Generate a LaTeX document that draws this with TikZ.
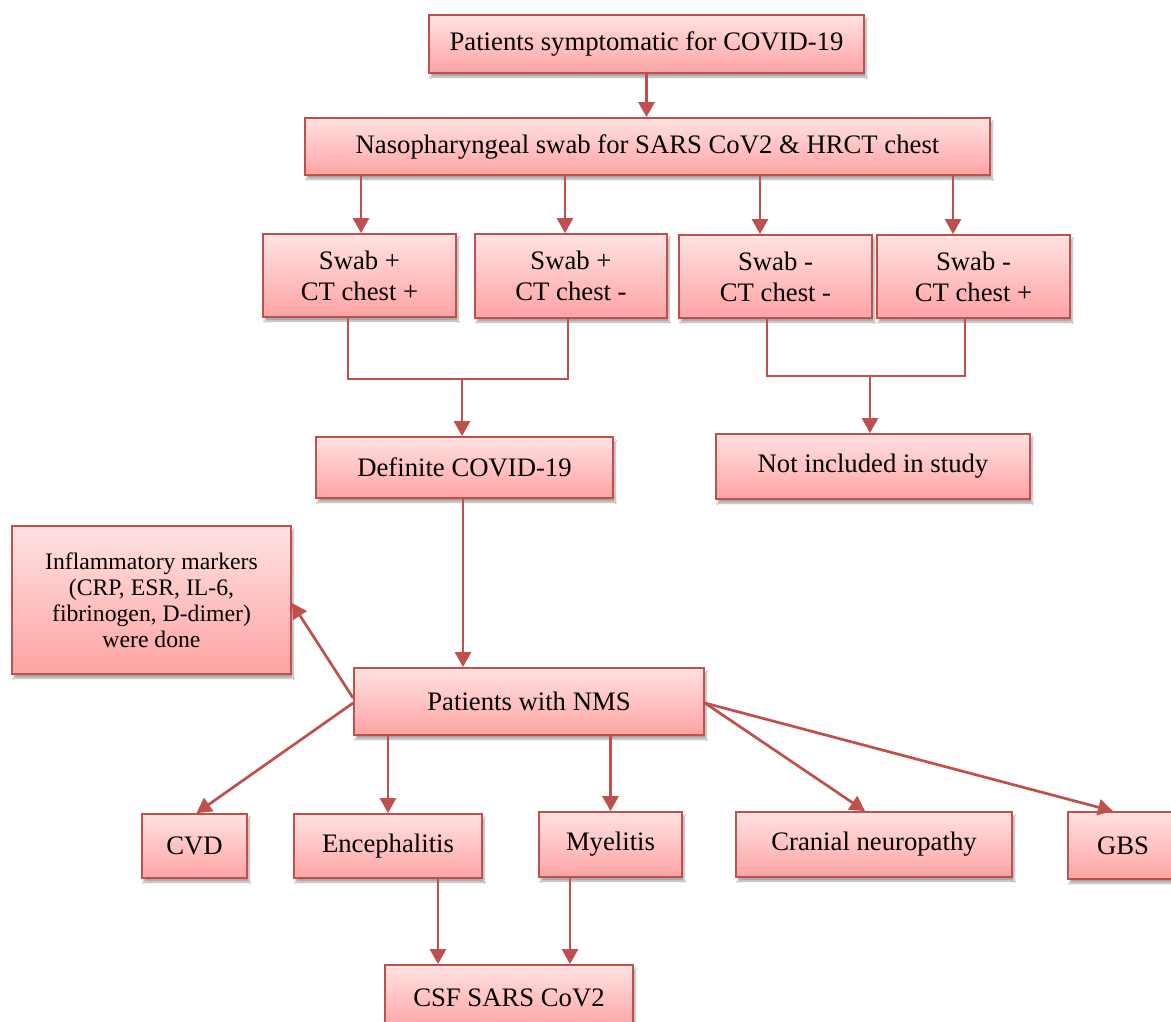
\documentclass[tikz,border=0pt]{standalone}
\usepackage{fontspec}
\setmainfont{Liberation Serif}
\usetikzlibrary{arrows.meta,shadows.blur,calc}
\definecolor{bordc}{HTML}{C0504D}
\definecolor{linec}{HTML}{C0504D}
\definecolor{topc}{HTML}{FFE2E2}
\definecolor{botc}{HTML}{FFA3A3}
\newcommand\bfont{\fontsize{26.7}{31}\selectfont}
\newcommand\sfont{\fontsize{23.7}{26}\selectfont}
\tikzset{
  box/.style={draw=bordc, line width=1.8pt, top color=topc, bottom color=botc,
    align=center, inner sep=0pt, font=\bfont, text=black,
    blur shadow={shadow xshift=2pt, shadow yshift=-4pt, shadow blur steps=6, shadow opacity=35}},
  arr/.style={draw=linec, line width=2.7pt, -{Triangle[length=15pt,width=16pt]}},
  brk/.style={draw=linec, line width=1.9pt}
}
\begin{document}
\begin{tikzpicture}[x=1pt,y=-1pt]
\fill[white] (0,0) rectangle (1171,1021);
\useasboundingbox (0,0) rectangle (1171,1021);

\node[box, minimum width=435pt, minimum height=58pt] (top) at (646.5,44) {Patients symptomatic for COVID-19};
\node[box, minimum width=685pt, minimum height=57pt] (naso) at (647.5,146.5) {Nasopharyngeal swab for SARS CoV2 \& HRCT chest};

\node[box, minimum width=193pt, minimum height=83pt] (s1) at (359.5,275.5) {Swab +\\CT chest +};
\node[box, minimum width=192pt, minimum height=84pt] (s2) at (571,276) {Swab +\\CT chest -};
\node[box, minimum width=193pt, minimum height=83pt] (s3) at (775.5,276.5) {Swab -\\CT chest -};
\node[box, minimum width=193pt, minimum height=83pt] (s4) at (973.5,276.5) {Swab -\\CT chest +};

\node[box, minimum width=297pt, minimum height=61pt] (def) at (464.5,467.5) {Definite COVID-19};
\node[box, minimum width=314pt, minimum height=65pt] (notinc) at (873,466.5) {Not included in study};

\node[box, minimum width=279pt, minimum height=148pt, font=\sfont] (infl) at (151.5,600) {Inflammatory markers\\(CRP, ESR, IL-6,\\fibrinogen, D-dimer)\\were done};
\node[box, minimum width=350pt, minimum height=67pt] (nms) at (529,701.5) {Patients with NMS};

\node[box, minimum width=105pt, minimum height=64pt] (cvd) at (194.5,846) {CVD};
\node[box, minimum width=188pt, minimum height=64pt] (enc) at (388,846) {Encephalitis};
\node[box, minimum width=143pt, minimum height=65pt] (mye) at (610.5,844.5) {Myelitis};
\node[box, minimum width=276pt, minimum height=65pt] (cran) at (874,844.5) {Cranial neuropathy};
\node[box, minimum width=110pt, minimum height=67pt] (gbs) at (1123,845.5) {GBS};
\node[box, minimum width=248pt, minimum height=65pt] (csf) at (509,997.5) {CSF SARS CoV2};

% connectors
\draw[arr] (top.south) -- (top.south |- naso.north);
\draw[arr] ([xshift=1.5pt]s1.north |- naso.south) -- ([xshift=1.5pt]s1.north);
\draw[arr] ([xshift=-6pt]s2.north |- naso.south) -- ([xshift=-6pt]s2.north);
\draw[arr] ([xshift=-15.5pt]s3.north |- naso.south) -- ([xshift=-15.5pt]s3.north);
\draw[arr] ([xshift=-20.5pt]s4.north |- naso.south) -- ([xshift=-20.5pt]s4.north);

\coordinate (bl) at (462,379);
\coordinate (br) at (870,376);
\draw[brk] ([xshift=-11.5pt]s1.south) -- ([xshift=-11.5pt]s1.south |- bl) -- ([xshift=-3pt]s2.south |- bl) -- ([xshift=-3pt]s2.south);
\draw[arr] (bl) -- (bl |- def.north);
\draw[brk] ([xshift=-8.5pt]s3.south) -- ([xshift=-8.5pt]s3.south |- br) -- ([xshift=-8.5pt]s4.south |- br) -- ([xshift=-8.5pt]s4.south);
\draw[arr] (br) -- (br |- notinc.north);

\draw[arr] ([xshift=-1.5pt]def.south) -- ([xshift=-1.5pt]def.south |- nms.north);
\draw[arr] ([yshift=3.5pt]nms.west) -- ([yshift=-3pt]infl.east);
\draw[arr] ([yshift=-1.5pt]nms.west) -- ([xshift=2pt]cvd.north);
\draw[arr] (enc.north |- nms.south) -- (enc.north);
\draw[arr] (mye.north |- nms.south) -- (mye.north);
\draw[arr] ([yshift=-1.5pt]nms.east) -- ([xshift=-9pt]cran.north);
\draw[arr] ([yshift=-1.5pt]nms.east) -- ([xshift=-10pt]gbs.north);
\draw[arr] ([xshift=50pt]enc.south) -- ([xshift=50pt]enc.south |- csf.north);
\draw[arr] ([xshift=-40.5pt]mye.south) -- ([xshift=-40.5pt]mye.south |- csf.north);
\end{tikzpicture}
\end{document}
